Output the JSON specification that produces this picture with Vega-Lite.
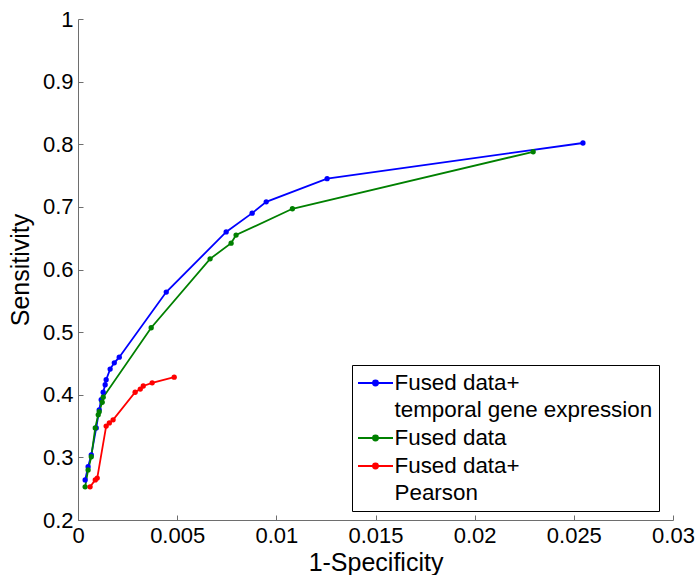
{
  "$schema": "https://vega.github.io/schema/vega-lite/v6.json",
  "width": 595,
  "height": 501,
  "autosize": "none",
  "padding": {"left": 78, "top": 19, "right": 26, "bottom": 55},
  "background": "white",
  "config": {
    "view": {"stroke": null},
    "font": "Liberation Sans",
    "axis": {
      "grid": false,
      "domainColor": "#6e6e6e",
      "tickColor": "#6e6e6e",
      "labelColor": "#000",
      "titleColor": "#000",
      "labelFont": "Liberation Sans",
      "titleFont": "Liberation Sans",
      "labelFontSize": 22,
      "titleFontSize": 25,
      "titleFontWeight": "normal",
      "tickSize": -5,
      "labelFlush": false
    }
  },
  "data": {
    "values": [
      {"s": "Fused data+|temporal gene expression", "o": 1, "x": 0.00036, "y": 0.264},
      {"s": "Fused data+|temporal gene expression", "o": 2, "x": 0.00051, "y": 0.285},
      {"s": "Fused data+|temporal gene expression", "o": 3, "x": 0.00067, "y": 0.304},
      {"s": "Fused data+|temporal gene expression", "o": 4, "x": 0.00092, "y": 0.347},
      {"s": "Fused data+|temporal gene expression", "o": 5, "x": 0.00107, "y": 0.376},
      {"s": "Fused data+|temporal gene expression", "o": 6, "x": 0.00117, "y": 0.392},
      {"s": "Fused data+|temporal gene expression", "o": 7, "x": 0.00127, "y": 0.404},
      {"s": "Fused data+|temporal gene expression", "o": 8, "x": 0.00137, "y": 0.416},
      {"s": "Fused data+|temporal gene expression", "o": 9, "x": 0.00142, "y": 0.424},
      {"s": "Fused data+|temporal gene expression", "o": 10, "x": 0.00162, "y": 0.441},
      {"s": "Fused data+|temporal gene expression", "o": 11, "x": 0.00183, "y": 0.451},
      {"s": "Fused data+|temporal gene expression", "o": 12, "x": 0.00208, "y": 0.46},
      {"s": "Fused data+|temporal gene expression", "o": 13, "x": 0.00445, "y": 0.564},
      {"s": "Fused data+|temporal gene expression", "o": 14, "x": 0.00747, "y": 0.66},
      {"s": "Fused data+|temporal gene expression", "o": 15, "x": 0.00878, "y": 0.69},
      {"s": "Fused data+|temporal gene expression", "o": 16, "x": 0.00949, "y": 0.708},
      {"s": "Fused data+|temporal gene expression", "o": 17, "x": 0.01256, "y": 0.745},
      {"s": "Fused data+|temporal gene expression", "o": 18, "x": 0.02546, "y": 0.802},
      {"s": "Fused data", "o": 1, "x": 0.00036, "y": 0.253},
      {"s": "Fused data", "o": 2, "x": 0.00051, "y": 0.28},
      {"s": "Fused data", "o": 3, "x": 0.00067, "y": 0.301},
      {"s": "Fused data", "o": 4, "x": 0.00087, "y": 0.347},
      {"s": "Fused data", "o": 5, "x": 0.00102, "y": 0.368},
      {"s": "Fused data", "o": 6, "x": 0.00107, "y": 0.373},
      {"s": "Fused data", "o": 7, "x": 0.00122, "y": 0.388},
      {"s": "Fused data", "o": 8, "x": 0.00127, "y": 0.396},
      {"s": "Fused data", "o": 9, "x": 0.00369, "y": 0.507},
      {"s": "Fused data", "o": 10, "x": 0.00666, "y": 0.617},
      {"s": "Fused data", "o": 11, "x": 0.00772, "y": 0.642},
      {"s": "Fused data", "o": 12, "x": 0.00797, "y": 0.655},
      {"s": "Fused data", "o": 13, "x": 0.01081, "y": 0.697},
      {"s": "Fused data", "o": 14, "x": 0.02295, "y": 0.788},
      {"s": "Fused data+|Pearson", "o": 1, "x": 0.00061, "y": 0.253},
      {"s": "Fused data+|Pearson", "o": 2, "x": 0.00087, "y": 0.264},
      {"s": "Fused data+|Pearson", "o": 3, "x": 0.00097, "y": 0.267},
      {"s": "Fused data+|Pearson", "o": 4, "x": 0.00142, "y": 0.35},
      {"s": "Fused data+|Pearson", "o": 5, "x": 0.00158, "y": 0.355},
      {"s": "Fused data+|Pearson", "o": 6, "x": 0.00177, "y": 0.36},
      {"s": "Fused data+|Pearson", "o": 7, "x": 0.00288, "y": 0.404},
      {"s": "Fused data+|Pearson", "o": 8, "x": 0.00314, "y": 0.409},
      {"s": "Fused data+|Pearson", "o": 9, "x": 0.00329, "y": 0.414},
      {"s": "Fused data+|Pearson", "o": 10, "x": 0.00374, "y": 0.419},
      {"s": "Fused data+|Pearson", "o": 11, "x": 0.00485, "y": 0.428}
    ]
  },
  "mark": {"type": "line", "strokeWidth": 1.8, "point": {"filled": true, "size": 28}},
  "encoding": {
    "x": {
      "field": "x", "type": "quantitative",
      "scale": {"domain": [0, 0.03], "nice": false},
      "axis": {"values": [0, 0.005, 0.01, 0.015, 0.02, 0.025, 0.03], "format": "~g", "title": "1-Specificity", "labelPadding": 10, "titlePadding": 4}
    },
    "y": {
      "field": "y", "type": "quantitative",
      "scale": {"domain": [0.2, 1], "nice": false, "zero": false},
      "axis": {"values": [0.2, 0.3, 0.4, 0.5, 0.6, 0.7, 0.8, 0.9, 1], "format": "~g", "title": "Sensitivity", "labelPadding": 10, "titlePadding": 9}
    },
    "order": {"field": "o", "type": "quantitative"},
    "color": {
      "field": "s", "type": "nominal",
      "scale": {
        "domain": ["Fused data+|temporal gene expression", "Fused data", "Fused data+|Pearson"],
        "range": ["#0000ff", "#008000", "#ff0000"]
      },
      "legend": {
        "title": null,
        "orient": "none",
        "legendX": 274,
        "legendY": 346,
        "strokeColor": "#000",
        "fillColor": "#fff",
        "padding": 6,
        "cornerRadius": 0,
        "labelFont": "Liberation Sans",
        "labelFontSize": 22.4,
        "labelColor": "#000",
        "labelOffset": 7,
        "labelLimit": 400,
        "labelExpr": "split(datum.label, '|')",
        "symbolType": "M-1.59,0L1.59,0M0.23,0A0.23,0.23,0,1,1,-0.23,0A0.23,0.23,0,1,1,0.23,0Z",
        "symbolSize": 484,
        "symbolOffset": 5.5,
        "symbolStrokeWidth": 1.8,
        "rowPadding": 4,
        "encode": {"labels": {"update": {"lineHeight": {"value": 27}}}}
      }
    }
  }
}
